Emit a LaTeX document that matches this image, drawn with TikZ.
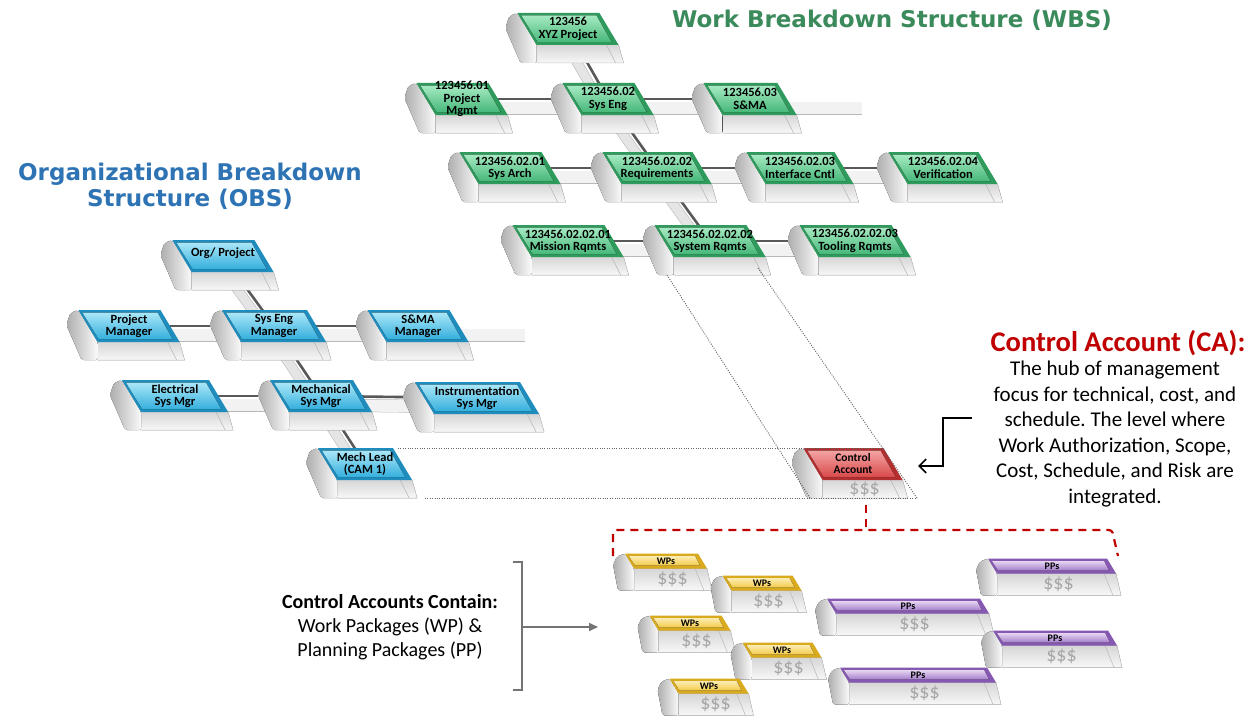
\documentclass[tikz,border=0pt]{standalone}
\usepackage{fontspec}
\setmainfont{Carlito}
\newfontfamily\titlef{DejaVu Sans}
\usetikzlibrary{arrows.meta,calc}
\frenchspacing
\pgfdeclarelayer{back}
\pgfdeclarelayer{paper}
\pgfsetlayers{paper,back,main}
\definecolor{gA}{HTML}{A6EAC2}\definecolor{gB}{HTML}{47B87A}\definecolor{gC}{HTML}{2E9A5C}
\definecolor{bA}{HTML}{AAE6F8}\definecolor{bB}{HTML}{35B0DD}\definecolor{bC}{HTML}{1E8DBE}
\definecolor{rA}{HTML}{F4A4A4}\definecolor{rB}{HTML}{D94A4A}\definecolor{rC}{HTML}{B32E2E}
\definecolor{yA}{HTML}{FCECB4}\definecolor{yB}{HTML}{F4CB48}\definecolor{yC}{HTML}{D9AA1E}
\definecolor{pA}{HTML}{E6D6F2}\definecolor{pB}{HTML}{A57DCC}\definecolor{pC}{HTML}{8658B2}
\definecolor{wbsgreen}{HTML}{3B8A5B}
\definecolor{obsblue}{HTML}{2E74B5}
\definecolor{cared}{HTML}{C00000}
\tikzset{
  frontface/.style={top color=black!16, bottom color=black!3},
  capface/.style={left color=black!32, right color=black!2},
  blktext/.style={font=\bfseries\fontsize{12.5}{12.5}\selectfont, align=center, inner sep=0pt, text=black},
  dollar/.style={font=\fontsize{20}{20}\selectfont, text=black!35, inner sep=0pt},
  conn/.style={draw=black!65, line width=2.6pt},
  tube/.style={draw=black!28, double=black!5, double distance=12pt, line width=0.5pt},
  vtube/.style={draw=black!30, double=black!10, double distance=9pt, line width=0.5pt},
  dotline/.style={draw=black!60, line width=0.9pt, dash pattern=on 1pt off 1.4pt},
  reddash/.style={draw=cared, line width=2.2pt, dash pattern=on 8pt off 6pt},
  graybr/.style={draw=black!55, line width=1.8pt},
}
\newcommand\blk[9]{%
  \pgfmathsetmacro\blkskew{0.6*#5}%
  \coordinate (#1-tl) at ({#2-#4/2-\blkskew/2},{#3-#5/2});
  \coordinate (#1-tr) at ({#2+#4/2-\blkskew/2},{#3-#5/2});
  \coordinate (#1-br) at ({#2+#4/2+\blkskew/2},{#3+#5/2});
  \coordinate (#1-bl) at ({#2-#4/2+\blkskew/2},{#3+#5/2});
  \fill[frontface] (#1-bl) -- (#1-br) -- ($(#1-br)+(5,#6)$) -- ($(#1-bl)+(0,#6)$) -- cycle;
  \draw[black!22, line width=0.5pt] (#1-br) -- ($(#1-br)+(5,#6)$) -- ($(#1-bl)+(0,#6)$);
  \draw[black!28, line width=0.5pt] ($(#1-br)+(-12,0)$) -- ($(#1-br)+(-3,#6)$);
  \fill[capface, rounded corners=2pt] (#1-tl) -- ($(#1-tl)+(-8,3)$) -- ($(#1-tl)+(-12,{0.3*(#5+#6)})$) -- ($(#1-bl)+(-16,#6)$) -- ($(#1-bl)+(0,#6)$) -- (#1-bl) -- cycle;
  \fill[#7C] (#1-tl) -- (#1-tr) -- (#1-br) -- (#1-bl) -- cycle;
  \fill[top color=#7A, bottom color=#7B] ($(#1-tl)+(4,2.5)$) -- ($(#1-tr)+(-3,2.5)$) -- ($(#1-br)+(-7,-3)$) -- ($(#1-bl)+(1,-3)$) -- cycle;
  \node[blktext] (#1) at (#2,#3) {#8};
  \ifx\relax#9\relax\else
    \node[dollar] (#1-d) at ({#2+\blkskew/2+2},{#3+#5/2+#6/2}) {#9};
  \fi
}
\begin{document}
\begin{tikzpicture}[x=1pt,y=-1pt]
\begin{pgfonlayer}{paper}
\fill[white] (0,0) rectangle (1253,717);
\end{pgfonlayer}
\useasboundingbox (0,0) rectangle (1253,717);

% titles
\node[font=\titlef\bfseries\fontsize{23}{26}\selectfont, text=wbsgreen] (wbstitle) at (892,20) {Work Breakdown Structure (WBS)};
\node[font=\titlef\bfseries\fontsize{23}{26}\selectfont, text=obsblue, align=center] (obstitle) at (190,186) {Organizational Breakdown\\Structure (OBS)};

% WBS
\blk{xyz}{568}{29}{82}{32}{18}{g}{123456\\XYZ Project}{}
\blk{pm}{462}{99}{72}{32}{18}{g}{123456.01\\Project\\Mgmt}{}
\blk{se}{608}{99}{72}{32}{18}{g}{123456.02\\Sys Eng}{}
\blk{sma}{750}{99}{74}{32}{18}{g}{123456.03\\S\&MA}{}
\blk{arch}{510}{168}{82}{32}{18}{g}{123456.02.01\\Sys Arch}{}
\blk{req}{657}{168}{90}{32}{18}{g}{123456.02.02\\Requirements}{}
\blk{icntl}{800}{168}{88}{32}{18}{g}{123456.02.03\\Interface Cntl}{}
\blk{verif}{943}{168}{90}{32}{18}{g}{123456.02.04\\Verification}{}
\blk{mission}{568}{241}{92}{32}{18}{g}{123456.02.02.01\\Mission Rqmts}{}
\blk{sysrq}{710}{241}{92}{32}{18}{g}{123456.02.02.02\\System Rqmts}{}
\blk{tooling}{855}{241}{92}{32}{18}{g}{123456.02.02.03\\Tooling Rqmts}{}

% OBS
\blk{org}{223}{256}{82}{32}{18}{b}{\raisebox{7pt}{Org/ Project}}{}
\blk{projmgr}{129}{326}{82}{32}{18}{b}{Project\\Manager}{}
\blk{semgr}{274}{326}{85}{32}{18}{b}{Sys Eng\\Manager}{}
\blk{smamgr}{418}{326}{82}{32}{18}{b}{S\&MA\\Manager}{}
\blk{elec}{175}{396}{87}{32}{18}{b}{Electrical\\Sys Mgr}{}
\blk{mech}{321}{396}{83}{32}{18}{b}{Mechanical\\Sys Mgr}{}
\blk{instr}{477}{398}{105}{32}{18}{b}{Instrumentation\\Sys Mgr}{}
\blk{mechlead}{365}{464}{75}{32}{18}{b}{Mech Lead\\(CAM 1)}{}

% Control account
\begin{scope}[blktext/.append style={font=\bfseries\fontsize{11.5}{12}\selectfont}]
\blk{ca}{853}{464}{80}{32}{18}{r}{Control\\Account}{\$\$\$}
\end{scope}

% packages
\begin{scope}[blktext/.append style={font=\bfseries\fontsize{10}{10}\selectfont}]
\blk{wp1}{666}{561}{73}{15}{22}{y}{WPs}{\$\$\$}
\blk{pp3}{1052}{566}{119}{15}{22}{p}{PPs}{\$\$\$}
\blk{wp2}{762}{583}{70}{15}{22}{y}{WPs}{\$\$\$}
\blk{pp1}{908}{606}{153}{15}{22}{p}{PPs}{\$\$\$}
\blk{wp3}{690}{623}{72}{15}{22}{y}{WPs}{\$\$\$}
\blk{pp4}{1055}{638}{115}{15}{22}{p}{PPs}{\$\$\$}
\blk{wp4}{782}{650}{70}{15}{22}{y}{WPs}{\$\$\$}
\blk{pp2}{918}{675}{147}{15}{22}{p}{PPs}{\$\$\$}
\blk{wp5}{709}{686}{70}{15}{22}{y}{WPs}{\$\$\$}
\end{scope}

% connectors behind
\coordinate (wbsext) at (862,99);
\coordinate (obsext) at (525,326);
\begin{pgfonlayer}{back}
  \foreach \a/\b in {pm/se,se/sma,sma/wbsext,arch/req,req/icntl,icntl/verif,mission/sysrq,sysrq/tooling,projmgr/semgr,semgr/smamgr,smamgr/obsext,elec/mech,mech/instr}
    \draw[tube] ([yshift=-9pt]\a.center) -- ([yshift=-9pt]\b.center);
  \foreach \a/\b in {xyz/se,se/req,req/sysrq,org/semgr,semgr/mech,mech/mechlead}
    \draw[vtube] ([xshift=-10pt]\a.center) -- ([xshift=-10pt]\b.center);
  \foreach \a/\b in {pm/se,se/sma,arch/req,req/icntl,icntl/verif,mission/sysrq,sysrq/tooling,projmgr/semgr,semgr/smamgr,elec/mech,mech/instr,xyz/se,se/req,req/sysrq,org/semgr,semgr/mech,mech/mechlead}
    \draw[conn] (\a.center) -- (\b.center);
\end{pgfonlayer}

% dotted projection lines
\coordinate (dA) at (667,275); \coordinate (dB) at (810,498);
\coordinate (dC) at (758,268); \coordinate (dD) at (917,498);
\coordinate (dE) at (398,448); \coordinate (dF) at (883,448);
\coordinate (dG) at (425,498);
\draw[dotline] (dA) -- (dB);
\draw[dotline] (dC) -- (dD);
\draw[dotline] (dE) -- (dF);
\draw[dotline] (dG) -- (dD);

% red dashed bracket
\coordinate (rs) at (866,505); \coordinate (rm) at (866,530);
\coordinate (rl) at (613,556); \coordinate (rr) at (1118,556);
\draw[reddash] (rs) -- (rm);
\draw[reddash, rounded corners=3pt] (rl) -- (613,530) -- (1112,530) -- (rr);

% CA description
\node[font=\bfseries\fontsize{28.5}{30}\selectfont, text=cared] (catitle) at (1118,343) {Control Account (CA):};
\node[font=\fontsize{21}{25.5}\selectfont, align=center] (cabody) at (1115,434) {The hub of management\\focus for technical, cost, and\\schedule. The level where\\Work Authorization, Scope,\\Cost, Schedule, and Risk are\\integrated.};
\coordinate (arrs) at (972,418);
\coordinate (arre) at (918,466);
\draw[line width=1.6pt, -{Straight Barb[length=7pt,width=14pt]}] (arrs) -- ++(-29,0) |- (arre);

% contain text and bracket
\node[font=\fontsize{20}{24}\selectfont, align=center] (contain) at (390,627) {\textbf{Control Accounts Contain:}\\Work Packages (WP) \&\\Planning Packages (PP)};
\coordinate (brt) at (513,562); \coordinate (brb) at (513,690);
\coordinate (brm) at (522,627); \coordinate (brtip) at (598,627);
\draw[graybr] (brt) -- ++(9,0) -- ($(brb)+(9,0)$) -- (brb);
\draw[graybr, -{Triangle[length=9pt,width=8pt]}] (brm) -- (brtip);
\end{tikzpicture}
\end{document}
